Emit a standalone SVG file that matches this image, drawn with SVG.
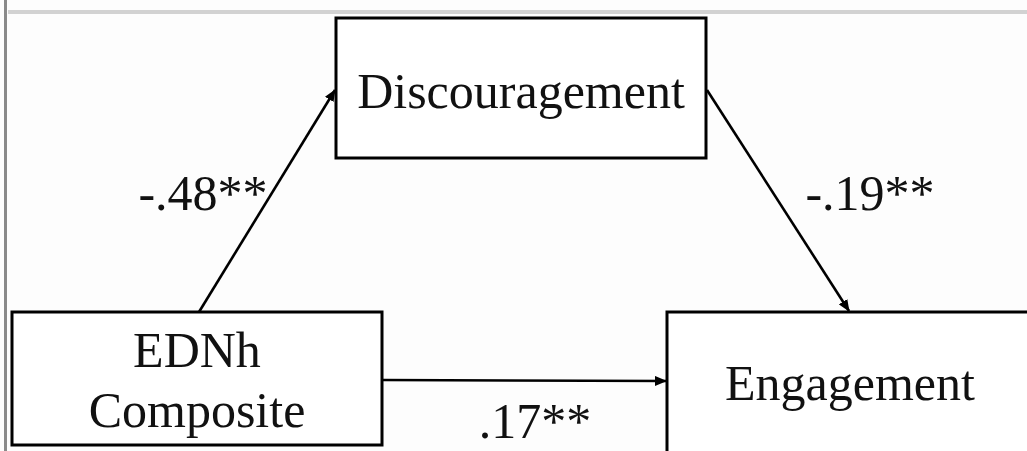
<svg xmlns="http://www.w3.org/2000/svg" width="1027" height="451" viewBox="0 0 1027 451">
<style>
.box{fill:#fff;stroke:#000;stroke-width:3}
.t{font-family:"Liberation Serif","Times New Roman",serif;font-size:50px;fill:#111;text-anchor:middle}
.c{stroke:#000;stroke-width:2.6;fill:none;marker-end:url(#ah)}
</style>
<defs>
<marker id="ah" markerWidth="12" markerHeight="10" refX="11" refY="5" orient="auto" markerUnits="userSpaceOnUse">
<path d="M0,0 L12,5 L0,10 Z" fill="#000"/>
</marker>
</defs>
<rect width="1027" height="451" fill="#fdfdfd"/>
<rect x="8" y="10" width="1019" height="4" fill="#d2d2d2"/>
<rect x="4" y="0" width="3" height="451" fill="#8a8a8a"/>
<g id="connectors">
<line class="c" x1="199" y1="312" x2="335" y2="90"/>
<line class="c" x1="707" y1="90" x2="849" y2="311"/>
<line class="c" x1="382" y1="380" x2="666" y2="381"/>
</g>
<g id="discouragement">
<rect class="box" x="336" y="18" width="370" height="140"/>
<text class="t" x="521" y="108">Discouragement</text>
</g>
<g id="ednh">
<rect class="box" x="12" y="312" width="370" height="133"/>
<text class="t" x="197" y="367">EDNh</text>
<text class="t" x="197" y="427">Composite</text>
</g>
<g id="engagement">
<rect class="box" x="667" y="312" width="400" height="200"/>
<text class="t" x="850" y="400">Engagement</text>
</g>
<g id="labels">
<text class="t" x="203" y="210">-.48**</text>
<text class="t" x="870" y="210">-.19**</text>
<text class="t" x="535" y="438">.17**</text>
</g>
</svg>
